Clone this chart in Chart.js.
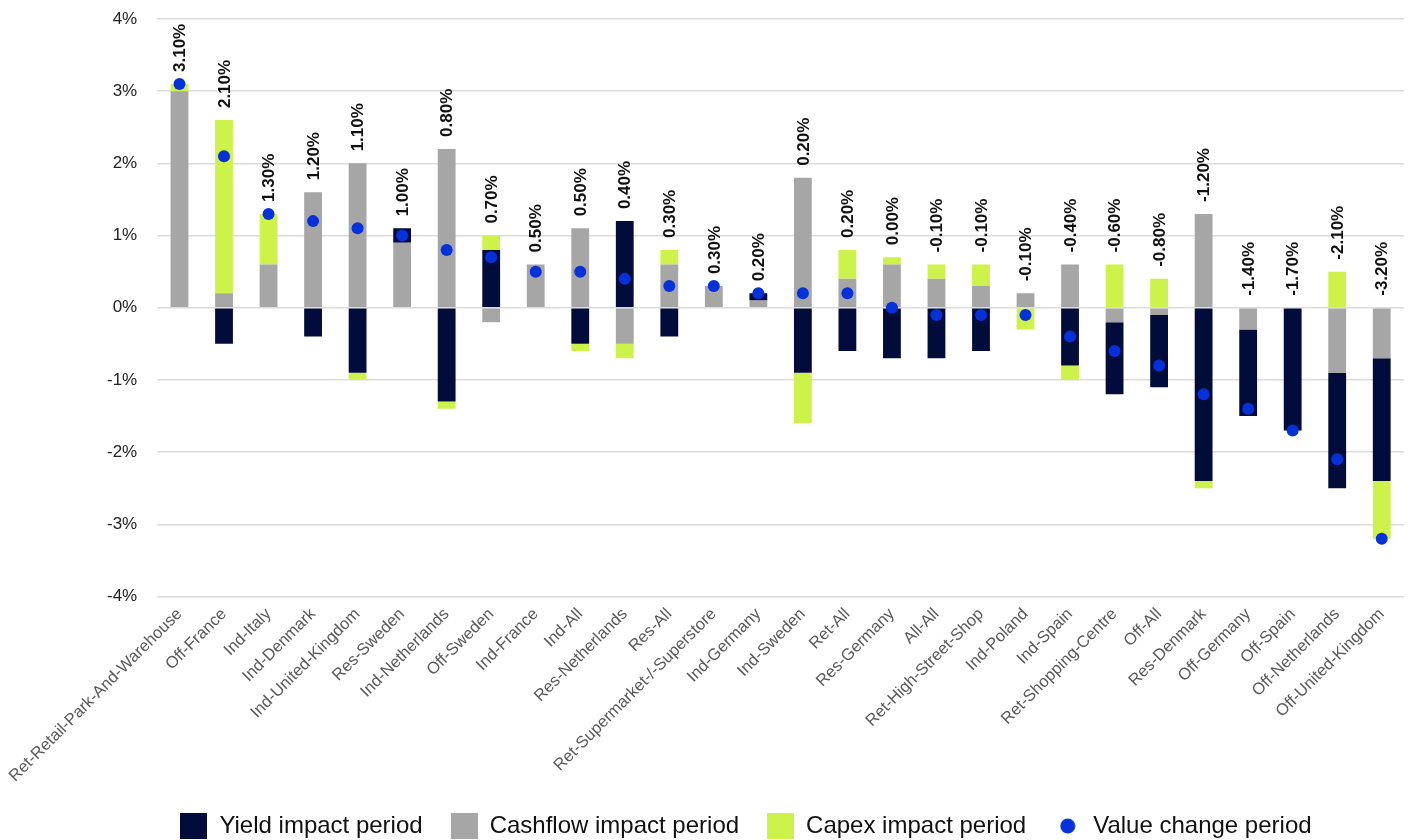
<!DOCTYPE html>
<html lang="en">
<head>
  <meta charset="UTF-8" />
  <title>Value change decomposition</title>
  <script src="https://cdn.jsdelivr.net/npm/chart.js"></script>
  <style>
    body { margin: 0; background: #fff; }
    .wrap { width: 1410px; height: 840px; }
  </style>
</head>
<body>
  <div class="wrap"><canvas id="chart"></canvas></div>

  <script>
    const categories = [
      'Ret-Retail-Park-And-Warehouse', 'Off-France', 'Ind-Italy', 'Ind-Denmark', 'Ind-United-Kingdom',
      'Res-Sweden', 'Ind-Netherlands', 'Off-Sweden', 'Ind-France', 'Ind-All', 'Res-Netherlands',
      'Res-All', 'Ret-Supermarket-/-Superstore', 'Ind-Germany', 'Ind-Sweden', 'Ret-All',
      'Res-Germany', 'All-All', 'Ret-High-Street-Shop', 'Ind-Poland', 'Ind-Spain',
      'Ret-Shopping-Centre', 'Off-All', 'Res-Denmark', 'Off-Germany', 'Off-Spain',
      'Off-Netherlands', 'Off-United-Kingdom'
    ];
    const yieldImpact = [0, -0.5, 0, -0.4, -0.9, 0.2, -1.3, 0.8, 0, -0.5, 1.2, -0.4, 0, 0.1,
      -0.9, -0.6, -0.7, -0.7, -0.6, 0, -0.8, -1.0, -1.0, -2.4, -1.2, -1.7, -1.6, -1.7];
    const cashflowImpact = [3.0, 0.2, 0.6, 1.6, 2.0, 0.9, 2.2, -0.2, 0.6, 1.1, -0.5, 0.6, 0.3, 0.1,
      1.8, 0.4, 0.6, 0.4, 0.3, 0.2, 0.6, -0.2, -0.1, 1.3, -0.3, 0, -0.9, -0.7];
    const capexImpact = [0.1, 2.4, 0.7, 0, -0.1, 0, -0.1, 0.2, 0, -0.1, -0.2, 0.2, 0, 0,
      -0.7, 0.4, 0.1, 0.2, 0.3, -0.3, -0.2, 0.6, 0.4, -0.1, 0, 0, 0.5, -0.8];
    const valueChange = [3.1, 2.1, 1.3, 1.2, 1.1, 1.0, 0.8, 0.7, 0.5, 0.5, 0.4, 0.3, 0.3, 0.2,
      0.2, 0.2, 0.0, -0.1, -0.1, -0.1, -0.4, -0.6, -0.8, -1.2, -1.4, -1.7, -2.1, -3.2];
    const yTicks = [-4, -3, -2, -1, 0, 1, 2, 3, 4];

    const NAVY = '#020c3b', GREY = '#a6a6a6', LIME = '#cdf249', BLUE = '#0431d9';

    // little canvases used as legend markers
    function makeIcon(color, round) {
      const c = document.createElement('canvas');
      c.width = round ? 16 : 27;
      c.height = round ? 16 : 26;
      const ctx = c.getContext('2d');
      ctx.fillStyle = color;
      if (round) {
        ctx.beginPath();
        ctx.arc(8, 8, 7.5, 0, Math.PI * 2);
        ctx.fill();
      } else {
        ctx.fillRect(0, 0, c.width, c.height);
      }
      return c;
    }
    const icons = [makeIcon(GREY), makeIcon(NAVY), makeIcon(LIME), makeIcon(BLUE, true)];
    const legendRank = [1, 0, 2, 3];

    // rotated value labels above the positive part of each stack
    const valueLabels = {
      id: 'valueLabels',
      afterDatasetsDraw(chart) {
        const { ctx, scales: { x, y } } = chart;
        ctx.save();
        ctx.font = 'bold 17px "Liberation Sans", Arial, sans-serif';
        ctx.fillStyle = '#111';
        ctx.textAlign = 'left';
        ctx.textBaseline = 'middle';
        valueChange.forEach((v, i) => {
          const pos = Math.max(0, yieldImpact[i]) + Math.max(0, cashflowImpact[i]) + Math.max(0, capexImpact[i]);
          const top = Math.max(pos, v, 0);
          const px = x.getPixelForValue(i);
          const py = y.getPixelForValue(top) - 12;
          ctx.save();
          ctx.translate(px, py);
          ctx.rotate(-Math.PI / 2);
          ctx.fillText(v.toFixed(2) + '%', 0, 1);
          ctx.restore();
        });
        ctx.restore();
      }
    };

    const barCommon = { type: 'bar', order: 1, stack: 'impact', barPercentage: 0.4, categoryPercentage: 1 };

    new Chart(document.getElementById('chart'), {
      data: {
        labels: categories,
        datasets: [
          Object.assign({ label: 'Cashflow impact period', data: cashflowImpact, backgroundColor: GREY }, barCommon),
          Object.assign({ label: 'Yield impact period', data: yieldImpact, backgroundColor: NAVY }, barCommon),
          Object.assign({ label: 'Capex impact period', data: capexImpact, backgroundColor: LIME }, barCommon),
          {
            type: 'line', order: 0, stack: 'value', label: 'Value change period', data: valueChange,
            showLine: false, pointRadius: 6, pointHoverRadius: 6, borderWidth: 0,
            pointBackgroundColor: BLUE, backgroundColor: BLUE, borderColor: BLUE
          }
        ]
      },
      options: {
        responsive: true,
        maintainAspectRatio: false,
        animation: false,
        layout: { padding: { left: 87, right: 5, top: 19, bottom: -8 } },
        scales: {
          x: {
            stacked: true,
            grid: { display: false },
            border: { display: false },
            ticks: {
              minRotation: 45, maxRotation: 45, autoSkip: false, padding: 0,
              color: '#595959', font: { family: '"Liberation Sans", Arial, sans-serif', size: 16.5 }
            }
          },
          y: {
            stacked: true,
            min: -4, max: 4,
            afterBuildTicks(scale) { scale.ticks = yTicks.map(v => ({ value: v })); },
            afterFit(scale) { scale.paddingTop = 0; },
            grid: { color: '#dcdcdc', lineWidth: 1.5, drawTicks: false },
            border: { display: false },
            ticks: {
              padding: 20, color: '#222',
              font: { family: '"Liberation Sans", Arial, sans-serif', size: 17 },
              callback: v => v + '%'
            }
          }
        },
        plugins: {
          tooltip: { enabled: false },
          legend: {
            position: 'bottom',
            labels: {
              usePointStyle: true,
              pointStyleWidth: 27,
              padding: 28,
              color: '#111',
              font: { family: '"Liberation Sans", Arial, sans-serif', size: 24 },
              sort: (a, b) => legendRank[a.datasetIndex] - legendRank[b.datasetIndex],
              generateLabels(chart) {
                const items = Chart.defaults.plugins.legend.labels.generateLabels(chart);
                items.forEach(it => { it.pointStyle = icons[it.datasetIndex]; });
                return items;
              }
            }
          }
        }
      },
      plugins: [valueLabels]
    });
  </script>
</body>
</html>
